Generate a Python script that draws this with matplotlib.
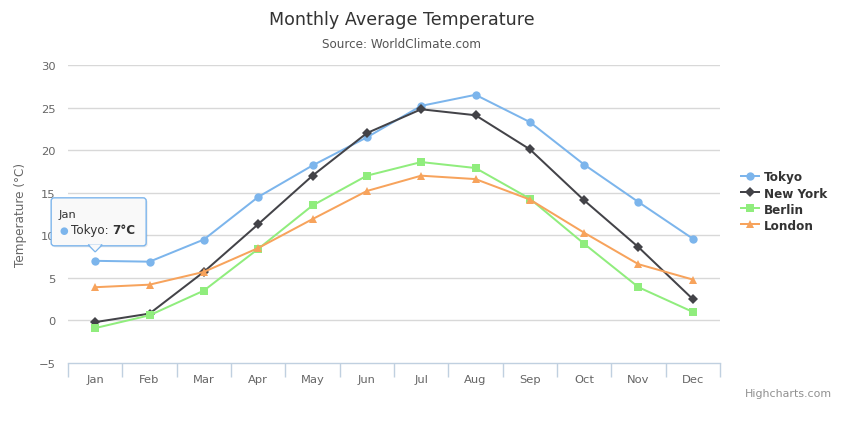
import matplotlib.pyplot as plt
from matplotlib.lines import Line2D
from matplotlib.patches import FancyBboxPatch, Polygon
from matplotlib.transforms import IdentityTransform

# data (Highcharts demo: monthly average temperature)
months = ['Jan', 'Feb', 'Mar', 'Apr', 'May', 'Jun',
          'Jul', 'Aug', 'Sep', 'Oct', 'Nov', 'Dec']
tokyo = [7.0, 6.9, 9.5, 14.5, 18.2, 21.5, 25.2, 26.5, 23.3, 18.3, 13.9, 9.6]
new_york = [-0.2, 0.8, 5.7, 11.3, 17.0, 22.0, 24.8, 24.1, 20.1, 14.1, 8.6, 2.5]
berlin = [-0.9, 0.6, 3.5, 8.4, 13.5, 17.0, 18.6, 17.9, 14.3, 9.0, 3.9, 1.0]
london = [3.9, 4.2, 5.7, 8.5, 11.9, 15.2, 17.0, 16.6, 14.2, 10.3, 6.6, 4.8]
y_ticks = [-5, 0, 5, 10, 15, 20, 25, 30]

series = [
    ('Tokyo', tokyo, '#7cb5ec', 'o', 6.0),
    ('New York', new_york, '#434348', 'D', 4.6),
    ('Berlin', berlin, '#90ed7d', 's', 5.4),
    ('London', london, '#f7a35c', '^', 6.2),
]

plt.rcParams['font.family'] = ['DejaVu Sans']
px = 72 / 100  # points per pixel at dpi 100

fig = plt.figure(figsize=(8.48, 4.27), dpi=100)
ax = fig.add_axes([68 / 848, 1 - 364 / 427, 652 / 848, 298 / 427])

x = list(range(len(months)))
handles = []
for name, vals, col, mk, ms in series:
    ax.plot(x, vals, color=col, lw=2 * px, marker=mk, markersize=ms,
            markeredgewidth=0, zorder=3, clip_on=False)
    handles.append(Line2D([], [], color=col, lw=2 * px, marker=mk,
                          markersize=ms, markeredgewidth=0))

ax.set_xlim(-0.5, 11.5)
ax.set_ylim(-5, 30)
ax.set_yticks(y_ticks)
ax.set_xticks(x)
ax.set_xticklabels(months)
ax.set_xticks([i - 0.5 for i in range(13)], minor=True)
ax.tick_params(axis='x', which='major', length=0, pad=8,
               labelsize=11.5 * px, labelcolor='#666666')
ax.tick_params(axis='x', which='minor', length=10, width=1,
               color='#C0D0E0', direction='out')
ax.tick_params(axis='y', length=0, pad=9, labelsize=11.5 * px,
               labelcolor='#666666')

for s in ['top', 'right', 'left']:
    ax.spines[s].set_visible(False)
ax.spines['bottom'].set_color('#C0D0E0')
ax.spines['bottom'].set_linewidth(1)
for t in y_ticks[1:]:
    ax.axhline(t, color='#D8D8D8', lw=1, zorder=0)

ax.set_ylabel('Temperature (°C)', fontsize=12 * px, color='#666666')
ax.yaxis.set_label_coords((27 - 68) / 652, 0.5)

fig.text(402 / 848, 1 - 20 / 427, 'Monthly Average Temperature', ha='center',
         va='center', fontsize=17.5 * px, color='#333333')
fig.text(402 / 848, 1 - 44 / 427, 'Source: WorldClimate.com', ha='center',
         va='center', fontsize=12 * px, color='#555555')
fig.text(832 / 848, 1 - 394 / 427, 'Highcharts.com', ha='right',
         va='center', fontsize=11 * px, color='#909090')

leg = fig.legend(handles, [s[0] for s in series], loc='center left',
                 bbox_to_anchor=(730 / 848, 1 - 202 / 427), frameon=False,
                 handlelength=1.5, handletextpad=0.45, labelspacing=0.25,
                 prop={'size': 12 * px, 'weight': 'bold'})
for t in leg.get_texts():
    t.set_color('#333333')

# tooltip on Tokyo / Jan
px0, py0 = ax.transData.transform((0, tokyo[0]))
bx0, by0 = px0 - 44, py0 + 15
bw, bh = 95, 48
ident = IdentityTransform()
shadow = FancyBboxPatch((bx0 + 1.5, by0 - 1.5), bw, bh,
                        boxstyle='round,pad=0,rounding_size=3',
                        facecolor='#000000', alpha=0.08, edgecolor='none',
                        transform=ident, zorder=4)
tip = Polygon([(px0 - 7, by0 + 1), (px0, py0 + 9), (px0 + 7, by0 + 1)],
              closed=True, facecolor='#F9F9F9', edgecolor='#7cb5ec',
              lw=1, transform=ident, zorder=5)
box = FancyBboxPatch((bx0, by0), bw, bh,
                     boxstyle='round,pad=0,rounding_size=3',
                     facecolor='#F9F9F9', edgecolor='#7cb5ec', lw=1,
                     transform=ident, zorder=5)
cover = Polygon([(px0 - 6, by0 + 1.5), (px0, py0 + 10), (px0 + 6, by0 + 1.5)],
                closed=True, facecolor='#F9F9F9', edgecolor='none',
                transform=ident, zorder=6)
fig.patches.extend([shadow, box, tip, cover])
fig.text(bx0 + 7, by0 + bh - 16, months[0], fontsize=11.5 * px,
         color='#333333', va='center', transform=ident, zorder=7)
fig.text(bx0 + 8, by0 + bh - 32, '●', fontsize=10 * px, color='#7cb5ec',
         va='center', transform=ident, zorder=7)
fig.text(bx0 + 20, by0 + bh - 32, 'Tokyo: ', fontsize=12 * px,
         color='#333333', va='center', transform=ident, zorder=7)
fig.text(bx0 + 61, by0 + bh - 32, '7°C', fontsize=12 * px, weight='bold',
         color='#333333', va='center', transform=ident, zorder=7)

fig.savefig('out.png', dpi=100)
